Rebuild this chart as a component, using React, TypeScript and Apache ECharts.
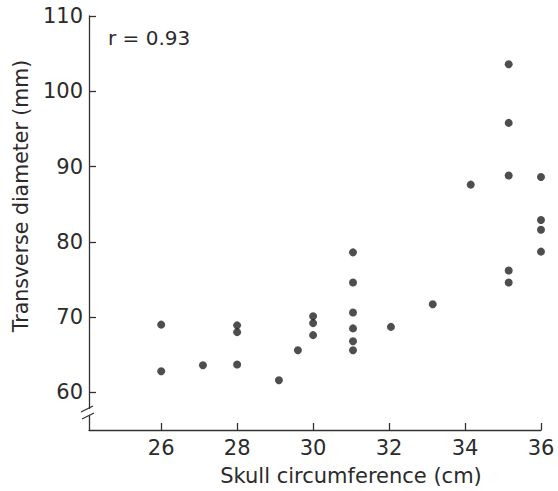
import React, { useEffect, useRef } from "react";
import * as echarts from "echarts";

const xTicks = [26, 28, 30, 32, 34, 36];
const yTicks = [60, 70, 80, 90, 100, 110];
const skullCircumference = [
  26, 26, 27.1, 28, 28, 28, 29.1, 29.6, 30, 30, 30,
  31.05, 31.05, 31.05, 31.05, 31.05, 31.05, 32.05, 33.15, 34.15,
  35.15, 35.15, 35.15, 35.15, 35.15, 36, 36, 36, 36,
];
const transverseDiameter = [
  69.0, 62.8, 63.6, 68.9, 68.0, 63.7, 61.6, 65.6, 70.1, 69.2, 67.6,
  78.6, 74.6, 70.6, 68.5, 66.8, 65.6, 68.7, 71.7, 87.6,
  103.6, 95.8, 88.8, 76.2, 74.6, 88.6, 82.9, 81.6, 78.7,
];
const xName = "Skull circumference (cm)";
const yName = "Transverse diameter (mm)";
const note = "r = 0.93";

const FONT = "DejaVu Sans";
const TEXT = "#2b2b2b";

export default function App() {
  const ref = useRef<HTMLDivElement>(null);
  useEffect(() => {
    if (!ref.current) return;
    document.body.style.margin = "0";
    const chart = echarts.init(ref.current, null, { renderer: "svg" });
    const points = skullCircumference.map((x, i) => [x, transverseDiameter[i]]);
    const axisLine = { lineStyle: { color: "#333", width: 1.3 } };
    chart.setOption({
      animation: false,
      backgroundColor: "#fff",
      grid: { left: 89, right: 17, top: 16, bottom: 61 },
      xAxis: {
        type: "value",
        min: 24.1,
        max: 36,
        splitLine: { show: false },
        axisLine,
        axisTick: { customValues: xTicks, inside: true, length: 7, lineStyle: { color: "#333", width: 1.3 } },
        axisLabel: { customValues: xTicks, margin: 7, fontFamily: FONT, fontSize: 21, color: TEXT },
      },
      yAxis: {
        type: "value",
        min: 55,
        max: 110,
        splitLine: { show: false },
        axisLine,
        axisTick: { customValues: yTicks, inside: true, length: 7, lineStyle: { color: "#333", width: 1.3 } },
        axisLabel: { customValues: yTicks, margin: 6, fontFamily: FONT, fontSize: 21, color: TEXT },
      },
      series: [
        {
          type: "scatter",
          data: points,
          symbol: "circle",
          symbolSize: 8,
          itemStyle: { color: "#222" },
        },
      ],
      graphic: [
        {
          type: "text",
          x: 351,
          y: 476,
          style: { text: xName, fontFamily: FONT, fontSize: 21, fill: TEXT, align: "center", verticalAlign: "middle" },
        },
        {
          type: "text",
          x: 21,
          y: 196,
          rotation: Math.PI / 2,
          style: { text: yName, fontFamily: FONT, fontSize: 20.5, fill: TEXT, align: "center", verticalAlign: "middle" },
        },
        {
          type: "text",
          x: 108,
          y: 38,
          style: { text: note, fontFamily: FONT, fontSize: 20, fill: TEXT, align: "left", verticalAlign: "middle" },
        },
        {
          type: "rect",
          z: 100,
          shape: { x: 85, y: 409, width: 8, height: 6 },
          style: { fill: "#fff" },
        },
        {
          type: "line",
          z: 101,
          shape: { x1: 81, y1: 412, x2: 93, y2: 406 },
          style: { stroke: "#333", lineWidth: 1.3 },
        },
        {
          type: "line",
          z: 101,
          shape: { x1: 82, y1: 419, x2: 94, y2: 413 },
          style: { stroke: "#333", lineWidth: 1.3 },
        },
      ],
    });
    return () => chart.dispose();
  }, []);
  return <div ref={ref} style={{ width: 558, height: 491 }} />;
}
